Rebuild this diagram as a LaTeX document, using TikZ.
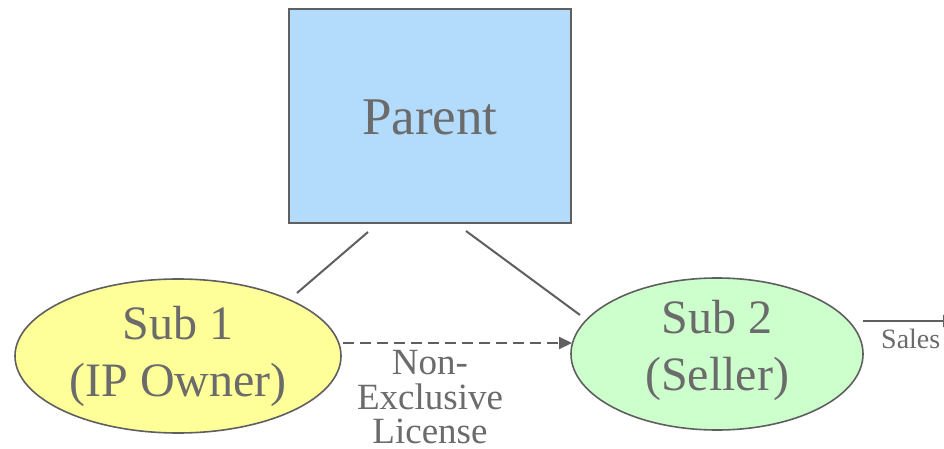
\documentclass[tikz,border=0pt]{standalone}
\usepackage{fontspec}
\setmainfont{Liberation Serif}
\usetikzlibrary{arrows.meta,shapes.geometric}
\definecolor{txt}{HTML}{6B6B6B}
\definecolor{edge}{HTML}{5F5F5F}
\definecolor{parentfill}{HTML}{B3DBFB}
\definecolor{subonefill}{HTML}{FFFF99}
\definecolor{subtwofill}{HTML}{CCFFCC}
\tikzset{
  box/.style={draw=edge, line width=1.6pt, inner sep=0pt, text=txt},
  oval/.style={ellipse, draw=edge, line width=1.6pt, inner sep=0pt},
  ovaltext/.style={text=txt, inner sep=0pt, align=center, font=\fontsize{48}{57}\selectfont},
  link/.style={draw=edge, line width=2pt},
  lbl/.style={text=txt, inner sep=0pt, align=center}
}
\begin{document}
\begin{tikzpicture}[x=1pt,y=-1pt]
\clip (0,0) rectangle (944,449);
\fill[white] (0,0) rectangle (944,449);
\node[box, fill=parentfill, minimum width=282pt, minimum height=214pt] (parent) at (430,116) {};
\node[lbl, anchor=base, font=\fontsize{53}{60}\selectfont] (ptext) at (430,135) {Parent};
\node[oval, fill=subonefill, minimum width=326pt, minimum height=154pt] (sub1) at (178,356) {};
\node[ovaltext] (sub1text) at (178,356) {Sub 1\\(IP Owner)};
\node[oval, fill=subtwofill, minimum width=292pt, minimum height=152pt] (sub2) at (717,354) {};
\node[ovaltext] (sub2text) at (717,350.3) {Sub 2\\(Seller)};
\coordinate (pl) at (368,232);
\coordinate (pr) at (466,231);
\coordinate (s1t) at (297,293);
\coordinate (s2t) at (580,315);
\coordinate (s1e) at (343,343);
\coordinate (s2w) at (572,343);
\coordinate (s2e) at (863,321);
\coordinate (out) at (956,321);
\draw[link] (pl) -- (s1t);
\draw[link] (pr) -- (s2t);
\draw[link, dash pattern=on 11pt off 6pt, -{Triangle[length=13pt,width=12pt]}] (s1e) -- (s2w);
\draw[link, line width=2.2pt, -{Triangle[length=13pt,width=12pt]}] (s2e) -- (out);
\node[lbl, anchor=north, font=\fontsize{37}{34.5}\selectfont] (lic) at (430,350.5) {Non-\\Exclusive\\License};
\node[lbl, anchor=base west, font=\fontsize{28}{32}\selectfont] (sales) at (881,348) {Sales};
\end{tikzpicture}
\end{document}
